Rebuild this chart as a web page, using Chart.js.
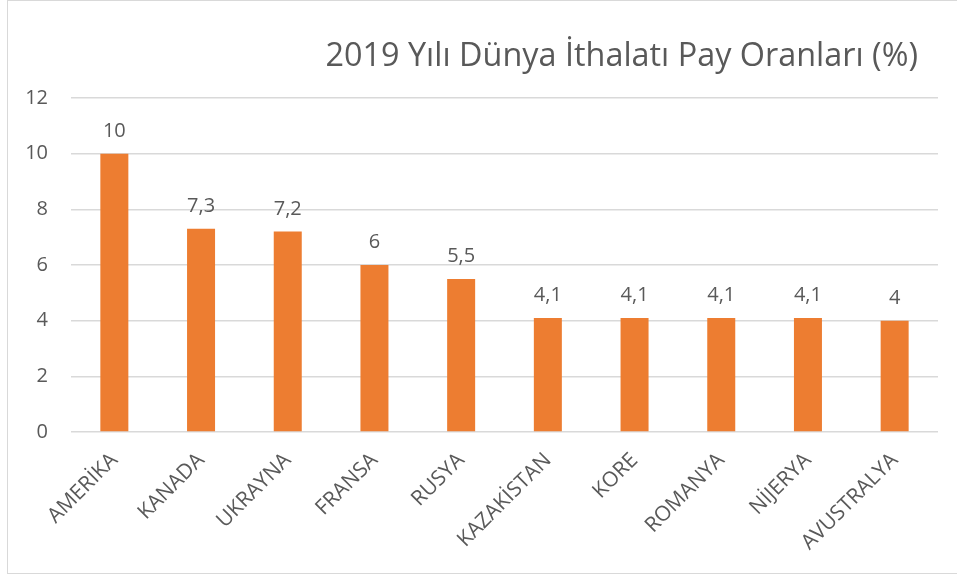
<!DOCTYPE html>
<html><head><meta charset="utf-8">
<script src="https://cdn.jsdelivr.net/npm/chart.js@4"></script>
<style>
html,body{margin:0;padding:0;background:#fff;overflow:hidden;}
#frame{position:absolute;left:7px;top:0px;width:960px;height:574px;border:1.5px solid #d9d9d9;box-sizing:border-box;}
#c{position:absolute;left:0;top:0;}
</style></head>
<body>
<div id="frame"></div>
<canvas id="c" width="957" height="578"></canvas>
<script>
const titleText = "2019 Yılı Dünya İthalatı Pay Oranları (%)";
const categories = ["AMERİKA","KANADA","UKRAYNA","FRANSA","RUSYA","KAZAKİSTAN","KORE","ROMANYA","NİJERYA","AVUSTRALYA"];
const values = [10, 7.3, 7.2, 6, 5.5, 4.1, 4.1, 4.1, 4.1, 4];
const yTicks = [0, 2, 4, 6, 8, 10, 12];

const FONT = "'Open Sans', sans-serif";
const TXT = "#595959";

const titlePlugin = {
  id: 'rightTitle',
  afterDraw(chart) {
    const ctx = chart.ctx;
    ctx.save();
    ctx.font = "32.4px " + FONT;
    ctx.fillStyle = TXT;
    ctx.textAlign = 'right';
    ctx.textBaseline = 'alphabetic';
    ctx.fillText(titleText, 918, 66);
    ctx.restore();
  }
};
const labelPlugin = {
  id: 'valueLabels',
  afterDatasetsDraw(chart) {
    const ctx = chart.ctx;
    const meta = chart.getDatasetMeta(0);
    ctx.save();
    ctx.font = "20px " + FONT;
    ctx.fillStyle = TXT;
    ctx.textAlign = 'center';
    ctx.textBaseline = 'alphabetic';
    meta.data.forEach((bar, i) => {
      ctx.fillText(String(values[i]).replace('.', ','), bar.x, bar.y - 17);
    });
    ctx.restore();
  }
};

new Chart(document.getElementById('c'), {
  type: 'bar',
  data: {
    labels: categories,
    datasets: [{
      data: values,
      backgroundColor: '#ED7D31',
      borderWidth: 0,
      categoryPercentage: 1,
      barPercentage: 0.323
    }]
  },
  options: {
    responsive: false,
    animation: false,
    layout: { padding: { top: 98, right: 19, bottom: 0, left: 0 } },
    plugins: { legend: { display: false }, title: { display: false }, tooltip: { enabled: false } },
    scales: {
      x: {
        grid: { display: false },
        border: { display: false },
        ticks: {
          autoSkip: false, minRotation: 45, maxRotation: 45,
          color: TXT, font: { family: FONT, size: 21 }, padding: 8
        },
        afterFit(scale) { scale.height = 146; }
      },
      y: {
        min: 0, max: 12,
        afterBuildTicks(scale) { scale.ticks = yTicks.map(v => ({ value: v })); },
        grid: { color: '#d9d9d9', lineWidth: 1.5, drawTicks: false },
        border: { display: false },
        ticks: { color: TXT, font: { family: FONT, size: 20 }, padding: 23 },
        afterFit(scale) { scale.width = 71; }
      }
    }
  },
  plugins: [titlePlugin, labelPlugin]
});
</script>
</body></html>
